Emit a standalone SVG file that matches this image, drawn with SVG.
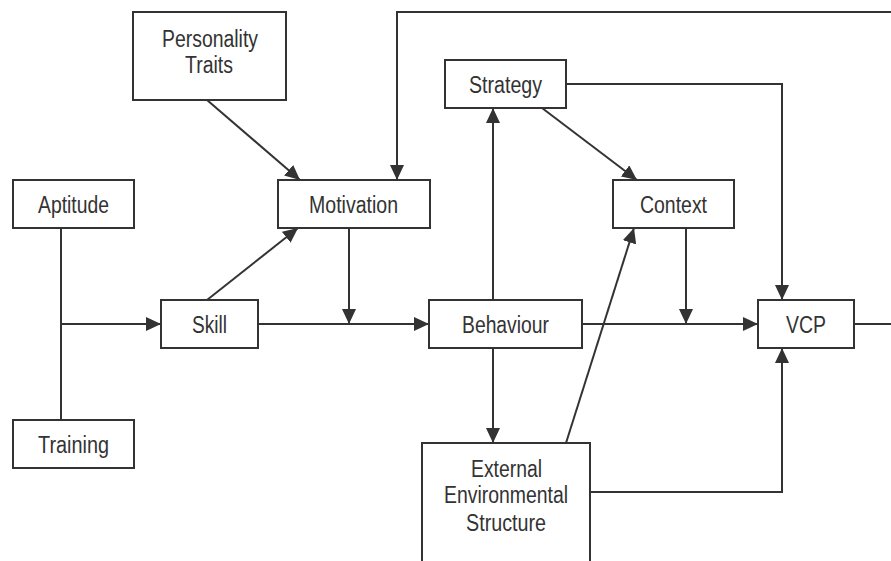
<svg xmlns="http://www.w3.org/2000/svg" width="891" height="561" viewBox="0 0 891 561">
  <defs>
    <marker id="arrow" markerUnits="userSpaceOnUse" markerWidth="15" markerHeight="14" refX="15" refY="7" orient="auto">
      <path d="M0,0 L15,7 L0,14 z" fill="#333"/>
    </marker>
    <style>
      .box { fill: #fff; stroke: #333; stroke-width: 2; }
      .lbl { font-family: "Liberation Sans", Arial, sans-serif; font-size: 23px; fill: #333; text-anchor: middle; }
      .edge { fill: none; stroke: #333; stroke-width: 2; }
      .arr { marker-end: url(#arrow); }
    </style>
  </defs>
  <rect width="891" height="561" fill="#fff"/>

  <!-- connectors -->
  <g id="connectors">
    <path class="edge" d="M61,228 V420"/>
    <path class="edge arr" d="M61,324 H161"/>
    <path class="edge arr" d="M258,324 H429"/>
    <path class="edge arr" d="M349,228 V324"/>
    <path class="edge arr" d="M891,12 H397 V180"/>
    <path class="edge arr" d="M207,100 L300,180"/>
    <path class="edge arr" d="M207,300 L298,228"/>
    <path class="edge arr" d="M493,300 V108"/>
    <path class="edge arr" d="M566,84 H782 V300"/>
    <path class="edge arr" d="M542,108 L637,180"/>
    <path class="edge arr" d="M686,228 V324"/>
    <path class="edge arr" d="M582,324 H758"/>
    <path class="edge arr" d="M493,348 V443"/>
    <path class="edge arr" d="M566,443 L634,228"/>
    <path class="edge arr" d="M590,492 H782 V348"/>
    <path class="edge" d="M854,324 H891"/>
  </g>

  <g id="personality">
    <rect class="box" x="133" y="12" width="153" height="88"/>
    <text class="lbl" x="210" y="47" textLength="96" lengthAdjust="spacingAndGlyphs">Personality</text>
    <text class="lbl" x="209" y="73" textLength="48" lengthAdjust="spacingAndGlyphs">Traits</text>
  </g>
  <g id="aptitude">
    <rect class="box" x="13" y="180" width="121" height="48"/>
    <text class="lbl" x="73.5" y="213" textLength="71" lengthAdjust="spacingAndGlyphs">Aptitude</text>
  </g>
  <g id="motivation">
    <rect class="box" x="278" y="180" width="152" height="48"/>
    <text class="lbl" x="353.5" y="213" textLength="89" lengthAdjust="spacingAndGlyphs">Motivation</text>
  </g>
  <g id="strategy">
    <rect class="box" x="445" y="60" width="121" height="48"/>
    <text class="lbl" x="505.5" y="93" textLength="73" lengthAdjust="spacingAndGlyphs">Strategy</text>
  </g>
  <g id="context">
    <rect class="box" x="613" y="180" width="121" height="48"/>
    <text class="lbl" x="673.5" y="213" textLength="67" lengthAdjust="spacingAndGlyphs">Context</text>
  </g>
  <g id="skill">
    <rect class="box" x="161" y="300" width="97" height="48"/>
    <text class="lbl" x="209.5" y="333" textLength="35" lengthAdjust="spacingAndGlyphs">Skill</text>
  </g>
  <g id="behaviour">
    <rect class="box" x="429" y="300" width="153" height="48"/>
    <text class="lbl" x="505.5" y="333" textLength="87" lengthAdjust="spacingAndGlyphs">Behaviour</text>
  </g>
  <g id="vcp">
    <rect class="box" x="758" y="300" width="96" height="48"/>
    <text class="lbl" x="806" y="333" textLength="40" lengthAdjust="spacingAndGlyphs">VCP</text>
  </g>
  <g id="training">
    <rect class="box" x="13" y="420" width="121" height="48"/>
    <text class="lbl" x="73.5" y="453" textLength="71" lengthAdjust="spacingAndGlyphs">Training</text>
  </g>
  <g id="external">
    <rect class="box" x="422" y="443" width="168" height="130"/>
    <text class="lbl" x="506.5" y="477" textLength="71" lengthAdjust="spacingAndGlyphs">External</text>
    <text class="lbl" x="506" y="503" textLength="124" lengthAdjust="spacingAndGlyphs">Environmental</text>
    <text class="lbl" x="506" y="531" textLength="80" lengthAdjust="spacingAndGlyphs">Structure</text>
  </g>
</svg>
